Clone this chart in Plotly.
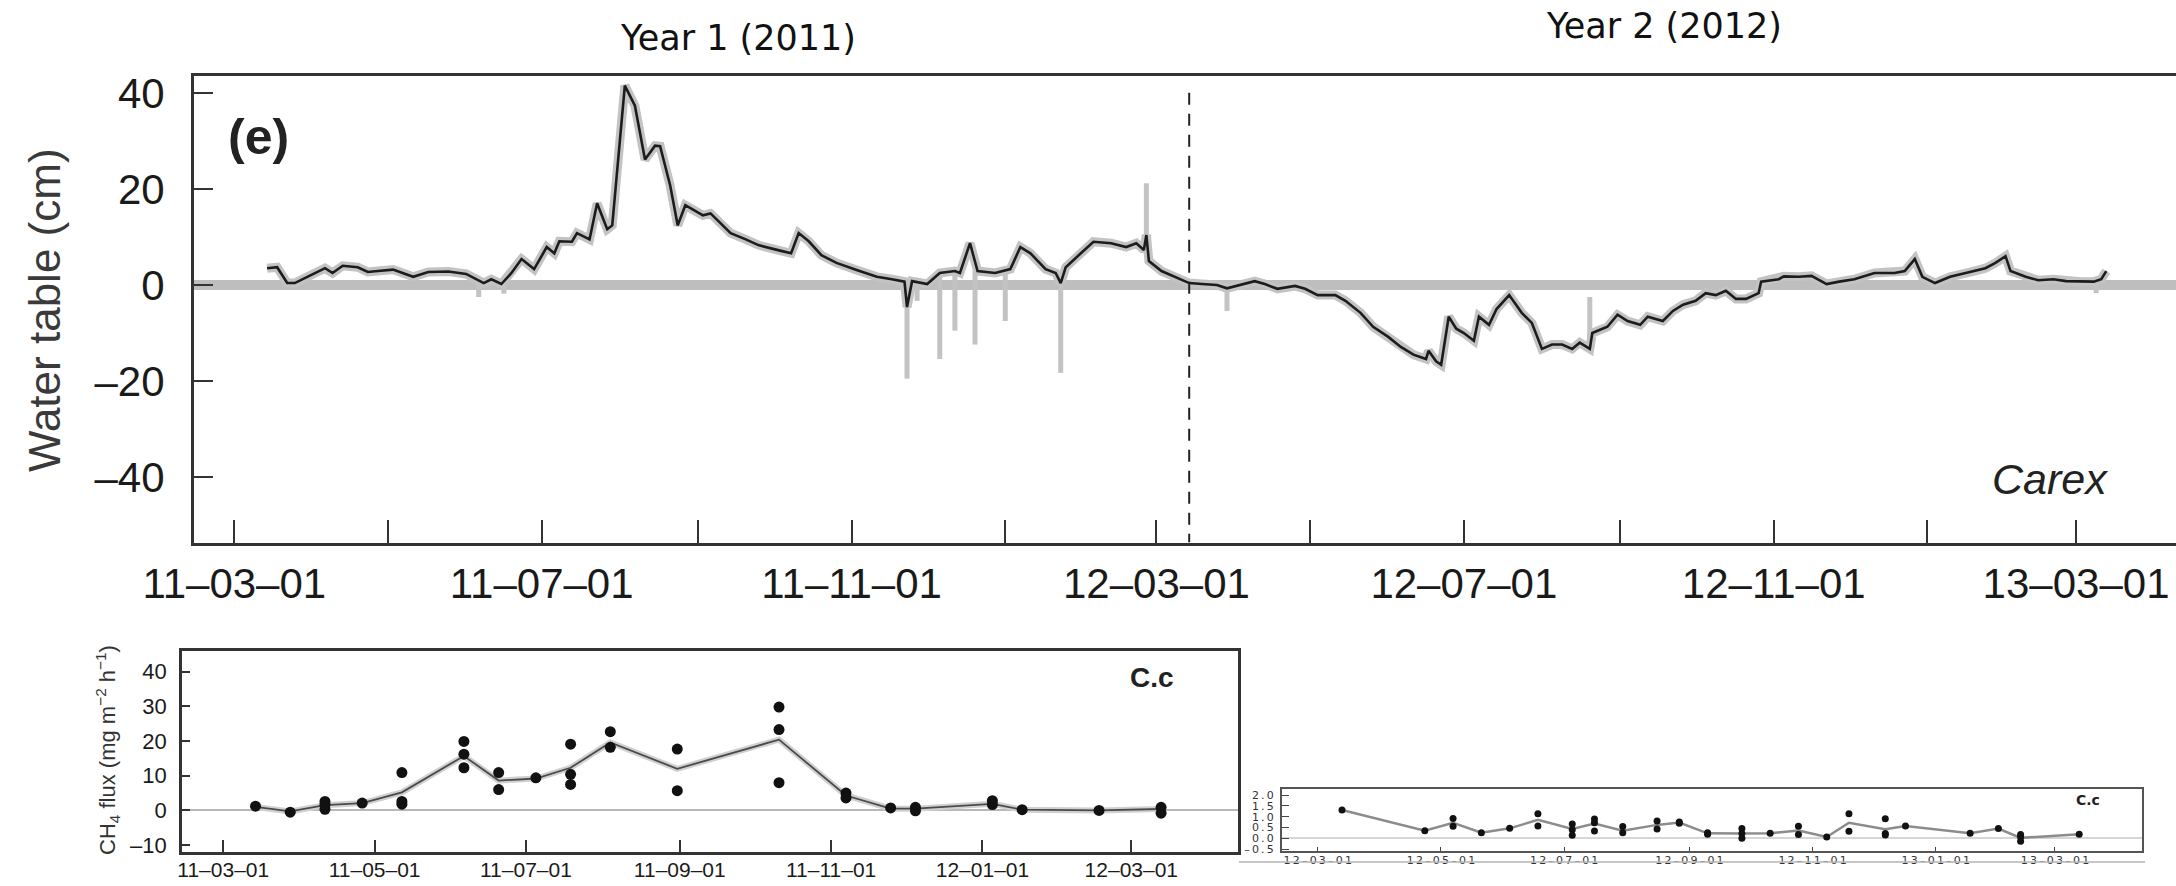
import plotly.graph_objects as go

# ---------------- DATA ----------------
# Main panel (e): water table (cm), black smoothed line
WT_DATES = [
    "2011-03-14", "2011-03-18", "2011-03-22", "2011-03-25", "2011-03-30", "2011-04-06", "2011-04-09",
    "2011-04-13", "2011-04-19", "2011-04-23", "2011-04-27", "2011-05-03", "2011-05-11", "2011-05-17",
    "2011-05-25", "2011-06-01", "2011-06-08", "2011-06-11", "2011-06-15", "2011-06-19", "2011-06-23",
    "2011-06-28", "2011-07-03", "2011-07-06", "2011-07-08", "2011-07-13", "2011-07-15", "2011-07-20",
    "2011-07-23", "2011-07-27", "2011-07-29", "2011-08-03", "2011-08-07", "2011-08-11", "2011-08-15",
    "2011-08-17", "2011-08-21", "2011-08-24", "2011-08-27", "2011-08-31", "2011-09-03", "2011-09-06",
    "2011-09-09", "2011-09-14", "2011-09-20", "2011-09-25", "2011-10-04", "2011-10-08", "2011-10-11",
    "2011-10-15", "2011-10-20", "2011-10-26", "2011-11-03", "2011-11-11", "2011-11-17", "2011-11-22",
    "2011-11-23", "2011-11-25", "2011-12-01", "2011-12-06", "2011-12-12", "2011-12-14", "2011-12-18",
    "2011-12-21", "2011-12-28", "2012-01-03", "2012-01-07", "2012-01-11", "2012-01-17", "2012-01-21",
    "2012-01-23", "2012-01-25", "2012-01-31", "2012-02-05", "2012-02-12", "2012-02-18", "2012-02-22",
    "2012-02-25", "2012-02-26", "2012-02-27", "2012-03-03", "2012-03-08", "2012-03-14", "2012-03-19",
    "2012-03-25", "2012-03-29", "2012-04-05", "2012-04-09", "2012-04-13", "2012-04-18", "2012-04-25",
    "2012-04-29", "2012-05-04", "2012-05-11", "2012-05-15", "2012-05-21", "2012-05-26", "2012-06-01",
    "2012-06-06", "2012-06-11", "2012-06-16", "2012-06-17", "2012-06-20", "2012-06-22", "2012-06-25",
    "2012-06-28", "2012-07-01", "2012-07-05", "2012-07-07", "2012-07-11", "2012-07-14", "2012-07-19",
    "2012-07-24", "2012-07-28", "2012-08-01", "2012-08-05", "2012-08-09", "2012-08-13", "2012-08-16",
    "2012-08-20", "2012-08-21", "2012-08-27", "2012-08-31", "2012-09-04", "2012-09-09", "2012-09-12",
    "2012-09-18", "2012-09-22", "2012-09-26", "2012-10-01", "2012-10-05", "2012-10-09", "2012-10-13",
    "2012-10-17", "2012-10-21", "2012-10-26", "2012-10-27", "2012-11-03", "2012-11-05", "2012-11-11",
    "2012-11-16", "2012-11-22", "2012-11-27", "2012-12-03", "2012-12-11", "2012-12-19", "2012-12-23",
    "2012-12-27", "2012-12-30", "2013-01-04", "2013-01-10", "2013-01-18", "2013-01-24", "2013-01-28",
    "2013-02-01", "2013-02-03", "2013-02-09", "2013-02-14", "2013-02-20", "2013-02-25", "2013-03-03",
    "2013-03-08", "2013-03-11", "2013-03-13",
]
WT_VALUES = [
    3.5, 3.7, 0.4, 0.4, 1.7, 3.5, 2.5,
    4.0, 3.7, 2.7, 2.9, 3.2, 1.7, 2.7,
    2.8, 2.3, 0.4, 1.2, 0.2, 2.5, 5.4,
    3.3, 7.9, 6.6, 9.1, 9.0, 10.8, 9.5,
    17.0, 11.6, 12.4, 41.5, 37.3, 26.1, 29.0,
    28.9, 20.7, 12.4, 16.6, 15.4, 14.5, 14.9,
    13.3, 10.8, 9.5, 8.3, 7.1, 6.6, 10.8,
    9.1, 6.2, 4.6, 3.1, 1.7, 1.2, 0.7,
    -4.6, 0.8, 0.2, 2.5, 2.9, 2.5, 8.7,
    2.9, 2.5, 3.3, 7.9, 6.6, 3.3, 2.5,
    0.4, 3.7, 6.6, 9.0, 8.7, 7.9, 8.7,
    7.3, 10.4, 5.0, 2.9, 1.7, 0.4, 0.2,
    0.0, -0.7, 0.2, 0.8, 0.2, -0.8, -0.2,
    -0.8, -2.1, -2.1, -3.3, -5.8, -8.7, -10.8,
    -12.9, -14.5, -15.4, -13.7, -15.9, -16.6, -6.6,
    -9.1, -10.0, -11.6, -6.6, -8.3, -5.0, -2.1,
    -5.8, -7.9, -13.3, -12.4, -12.4, -13.3, -12.0,
    -13.3, -10.0, -8.7, -6.2, -7.5, -8.3, -6.6,
    -7.5, -5.4, -4.1, -3.3, -1.7, -2.1, -1.2,
    -2.9, -2.9, -1.7, 0.7, 1.2, 1.8, 1.7,
    1.9, 0.2, 0.7, 1.2, 2.5, 2.5, 2.9,
    5.4, 1.7, 0.4, 1.7, 2.7, 3.5, 4.6,
    6.0, 2.9, 1.7, 1.0, 1.2, 0.8, 0.7,
    0.7, 1.2, 2.9,
]
# Raw logger spikes (grey), from -> to
SPIKE_DATES = ["2011-06-06", "2011-06-16", "2011-11-23", "2011-11-27", "2011-12-06", "2011-12-12",
               "2011-12-20", "2012-01-01", "2012-01-23", "2012-02-26", "2012-03-29", "2012-08-20",
               "2013-03-09"]
SPIKE_FROM = [1.0, 0.2, 0.7, 0.8, 2.5, 2.9, 3.0, 3.0, 0.4, 8.0, -0.7, -13.3, 0.7]
SPIKE_TO = [-2.5, -1.8, -19.5, -3.3, -15.4, -9.5, -12.4, -7.5, -18.3, 21.2, -5.4, -2.5, -1.7]
YEAR_SPLIT = "2012-03-14"

MAIN_TICKS = ["2011-03-01", "2011-07-01", "2011-11-01", "2012-03-01", "2012-07-01", "2012-11-01",
              "2013-03-01"]
MAIN_TICKTEXT = ["11–03–01", "11–07–01", "11–11–01", "12–03–01", "12–07–01", "12–11–01", "13–03–01"]
MAIN_MINOR = ["2011-05-01", "2011-09-01", "2012-01-01", "2012-05-01", "2012-09-01", "2013-01-01"]
MAIN_YTICKS = [-40, -20, 0, 20, 40]
MAIN_YTICKTEXT = ["–40", "–20", "0", "20", "40"]

# Year 1 CH4 flux (mg m-2 h-1): mean line and individual chambers
F1_DATES = ["2011-03-14", "2011-03-28", "2011-04-11", "2011-04-26", "2011-05-12", "2011-06-06",
            "2011-06-20", "2011-07-05", "2011-07-19", "2011-08-04", "2011-08-31", "2011-10-11",
            "2011-11-07", "2011-11-25", "2011-12-05", "2012-01-05", "2012-01-17", "2012-02-17",
            "2012-03-13"]
F1_MEAN = [1.0, -0.3, 1.5, 2.1, 5.2, 15.7, 8.6, 9.2, 12.3, 19.6, 12.0, 20.4, 4.3, 0.5, 0.5, 1.9,
           0.2, 0.0, 0.4]
F1_PT_DATES = ["2011-03-14", "2011-03-28", "2011-04-11", "2011-04-11", "2011-04-11", "2011-04-26",
               "2011-05-12", "2011-05-12", "2011-05-12", "2011-06-06", "2011-06-06", "2011-06-06",
               "2011-06-20", "2011-06-20", "2011-07-05", "2011-07-19", "2011-07-19", "2011-07-19",
               "2011-08-04", "2011-08-04", "2011-08-31", "2011-08-31", "2011-10-11", "2011-10-11",
               "2011-10-11", "2011-11-07", "2011-11-07", "2011-11-25", "2011-12-05", "2011-12-05",
               "2012-01-05", "2012-01-05", "2012-01-17", "2012-02-17", "2012-03-13", "2012-03-13"]
F1_PT_VALUES = [1.2, -0.5, 2.6, 1.6, 0.3, 2.1,
                10.9, 2.6, 1.8, 19.9, 16.2, 12.3,
                10.9, 6.0, 9.4, 19.1, 10.4, 7.5,
                22.7, 18.2, 17.7, 5.7, 29.8, 23.3,
                8.0, 5.0, 3.6, 0.7, 0.9, -0.1,
                2.8, 1.7, 0.2, 0.0, 0.9, -0.8]
F1_TICKS = ["2011-03-01", "2011-05-01", "2011-07-01", "2011-09-01", "2011-11-01", "2012-01-01",
            "2012-03-01"]
F1_TICKTEXT = ["11–03–01", "11–05–01", "11–07–01", "11–09–01", "11–11–01", "12–01–01", "12–03–01"]
F1_YTICKS = [-10, 0, 10, 20, 30, 40]
F1_YTICKTEXT = ["–10", "0", "10", "20", "30", "40"]

# Year 2 CH4 flux
F2_DATES = ["2012-03-13", "2012-04-23", "2012-05-07", "2012-05-21", "2012-06-04", "2012-06-18",
            "2012-07-05", "2012-07-16", "2012-07-30", "2012-08-16", "2012-08-27", "2012-09-10",
            "2012-09-27", "2012-10-11", "2012-10-25", "2012-11-08", "2012-11-19", "2012-12-07",
            "2012-12-17", "2013-01-18", "2013-02-01", "2013-02-12", "2013-03-13"]
F2_MEAN = [1.31, 0.35, 0.72, 0.26, 0.46, 0.85, 0.43, 0.68, 0.35, 0.62, 0.73, 0.23, 0.22, 0.23,
           0.36, 0.06, 0.72, 0.42, 0.57, 0.23, 0.45, 0.02, 0.19]
F2_PT_DATES = ["2012-03-13", "2012-04-23", "2012-05-07", "2012-05-07", "2012-05-21", "2012-06-04",
               "2012-06-18", "2012-06-18", "2012-07-05", "2012-07-05", "2012-07-05", "2012-07-16",
               "2012-07-16", "2012-07-16", "2012-07-30", "2012-07-30", "2012-08-16", "2012-08-16",
               "2012-08-27", "2012-08-27", "2012-09-10", "2012-09-10", "2012-09-27", "2012-09-27",
               "2012-09-27", "2012-10-11", "2012-10-25", "2012-10-25", "2012-11-08", "2012-11-19",
               "2012-11-19", "2012-12-07", "2012-12-07", "2012-12-07", "2012-12-17", "2013-01-18",
               "2013-02-01", "2013-02-12", "2013-02-12", "2013-02-12", "2013-03-13"]
F2_PT_VALUES = [1.31, 0.35, 0.91, 0.56, 0.26, 0.46,
                1.14, 0.57, 0.66, 0.40, 0.14, 0.89,
                0.72, 0.34, 0.54, 0.26, 0.80, 0.43,
                0.75, 0.70, 0.26, 0.19, 0.45, 0.22,
                0.0, 0.23, 0.56, 0.17, 0.06, 1.13,
                0.32, 0.90, 0.22, 0.15, 0.57, 0.23,
                0.45, 0.17, 0.06, -0.14, 0.19]
F2_TICKS = ["2012-03-01", "2012-05-01", "2012-07-01", "2012-09-01", "2012-11-01", "2013-01-01",
            "2013-03-01"]
F2_TICKTEXT = ["12–03–01", "12–05–01", "12–07–01", "12–09–01", "12–11–01", "13–01–01", "13–03–01"]
F2_YTICKS = [-0.5, 0.0, 0.5, 1.0, 1.5, 2.0]
F2_YTICKTEXT = ["–0.5", "0.0", "0.5", "1.0", "1.5", "2.0"]

# ---------------- LAYOUT HELPERS ----------------
W, H = 2176, 886
ARIAL = "Liberation Sans, Arial, sans-serif"
DEJAVU = "DejaVu Sans, Verdana, sans-serif"


def fx(p):
    return p / W


def fy(p):
    return 1 - p / H


def spaced(s):
    return "\u2009".join(s)


fig = go.Figure()

# ---- main panel traces ----
fig.add_trace(go.Scatter(x=WT_DATES, y=WT_VALUES, mode="lines",
                         line=dict(color="#c3c3c3", width=9), xaxis="x", yaxis="y",
                         hoverinfo="skip", showlegend=False))
sx, sy = [], []
for d, a, b in zip(SPIKE_DATES, SPIKE_FROM, SPIKE_TO):
    sx += [d, d, None]
    sy += [a, b, None]
fig.add_trace(go.Scatter(x=sx, y=sy, mode="lines", line=dict(color="#c3c3c3", width=5),
                         xaxis="x", yaxis="y", hoverinfo="skip", showlegend=False))
fig.add_trace(go.Scatter(x=WT_DATES, y=WT_VALUES, mode="lines",
                         line=dict(color="#1c1c1c", width=2.6), xaxis="x", yaxis="y",
                         showlegend=False))

# ---- year-1 flux ----
fig.add_trace(go.Scatter(x=F1_DATES, y=F1_MEAN, mode="lines", line=dict(color="#d0d0d0", width=6),
                         xaxis="x2", yaxis="y2", hoverinfo="skip", showlegend=False))
fig.add_trace(go.Scatter(x=F1_DATES, y=F1_MEAN, mode="lines", line=dict(color="#4a4a4a", width=1.8),
                         xaxis="x2", yaxis="y2", showlegend=False))
fig.add_trace(go.Scatter(x=F1_PT_DATES, y=F1_PT_VALUES, mode="markers",
                         marker=dict(color="#111111", size=11), xaxis="x2", yaxis="y2",
                         showlegend=False))

# ---- year-2 flux ----
fig.add_trace(go.Scatter(x=F2_DATES, y=F2_MEAN, mode="lines", line=dict(color="#8c8c8c", width=2.5),
                         xaxis="x3", yaxis="y3", showlegend=False))
fig.add_trace(go.Scatter(x=F2_PT_DATES, y=F2_PT_VALUES, mode="markers",
                         marker=dict(color="#111111", size=7), xaxis="x3", yaxis="y3",
                         showlegend=False))

MAIN_YR = [-53.6, 43.5]
common = dict(automargin=False, showgrid=False, ticklabeloverflow="allow")

fig.update_layout(
    template="none",
    width=W, height=H, margin=dict(l=0, r=0, t=0, b=0, pad=0),
    paper_bgcolor="white", plot_bgcolor="white", showlegend=False,
    xaxis=dict(domain=[fx(194), 1.0], anchor="y", type="date",
               range=["2011-02-13", "2013-04-09 16:00"],
               tickmode="array", tickvals=MAIN_TICKS, ticktext=MAIN_TICKTEXT,
               ticks="inside", ticklen=23, tickwidth=2, tickcolor="#333",
               minor=dict(tickmode="array", tickvals=MAIN_MINOR, ticks="inside", ticklen=23,
                          tickwidth=2, tickcolor="#333", showgrid=False),
               showline=True, linecolor="#333", linewidth=3, mirror=True,
               zeroline=False, ticklabelstandoff=2,
               tickfont=dict(family=ARIAL, size=42, color="#1a1a1a"), **common),
    yaxis=dict(domain=[fy(542.5), fy(76)], anchor="x", range=MAIN_YR,
               tickmode="array", tickvals=MAIN_YTICKS, ticktext=MAIN_YTICKTEXT,
               ticks="inside", ticklen=19, tickwidth=2, tickcolor="#333",
               showline=True, linecolor="#333", linewidth=3,
               zeroline=True, zerolinecolor="#bebebe", zerolinewidth=10,
               ticklabelstandoff=18,
               tickfont=dict(family=ARIAL, size=42, color="#1a1a1a"), **common),
    xaxis2=dict(domain=[fx(181.8), fx(1238)], anchor="y2", type="date",
                range=["2011-02-12 07:00", "2012-04-13"],
                tickmode="array", tickvals=F1_TICKS, ticktext=F1_TICKTEXT,
                ticks="inside", ticklen=12, tickwidth=1.5, tickcolor="#333",
                showline=True, linecolor="#333", linewidth=2.5, mirror=True,
                zeroline=False, ticklabelstandoff=-3,
                tickfont=dict(family=ARIAL, size=21, color="#1a1a1a"), **common),
    yaxis2=dict(domain=[fy(852), fy(650.7)], anchor="x2", range=[-12.0, 46.06],
                tickmode="array", tickvals=F1_YTICKS, ticktext=F1_YTICKTEXT,
                ticks="inside", ticklen=8, tickwidth=1.5, tickcolor="#333",
                showline=True, linecolor="#333", linewidth=2.5, mirror=True,
                zeroline=True, zerolinecolor="#b8b8b8", zerolinewidth=2,
                ticklabelstandoff=8,
                tickfont=dict(family=ARIAL, size=22, color="#1a1a1a"), **common),
    xaxis3=dict(domain=[fx(1282), fx(2141.8)], anchor="y3", type="date",
                range=["2012-02-12 07:00", "2013-04-13"],
                tickmode="array", tickvals=F2_TICKS, ticktext=[spaced(t) for t in F2_TICKTEXT],
                ticks="inside", ticklen=4, tickwidth=1.2, tickcolor="#444",
                showline=True, linecolor="#555", linewidth=2, mirror=True,
                zeroline=False, ticklabelstandoff=-2,
                tickfont=dict(family=DEJAVU, size=11, color="#333"), **common),
    yaxis3=dict(domain=[fy(850.7), fy(789)], anchor="x3", range=[-0.574, 2.28],
                tickmode="array", tickvals=F2_YTICKS,
                ticktext=[spaced(t) for t in F2_YTICKTEXT],
                ticks="inside", ticklen=7, tickwidth=1.2, tickcolor="#444",
                showline=True, linecolor="#555", linewidth=2, mirror=True,
                zeroline=True, zerolinecolor="#d6d6d6", zerolinewidth=1.5,
                ticklabelstandoff=4,
                tickfont=dict(family=DEJAVU, size=11, color="#333"), **common),
)

# Start-of-year-2 dashed marker
fig.add_shape(type="line", xref="x", yref="y", x0=YEAR_SPLIT, x1=YEAR_SPLIT,
              y0=MAIN_YTICKS[-1], y1=MAIN_YR[0],
              line=dict(color="#222", width=2, dash="12px,9px"))
# frame line under the pasted year-2 panel
fig.add_shape(type="line", xref="paper", yref="paper", x0=fx(1239), x1=fx(2145),
              y0=fy(862), y1=fy(862), line=dict(color="#b5b5b5", width=1.5))

ann = [
    dict(text="Year 1 (2011)", x=fx(738), y=fy(38), font=dict(family=DEJAVU, size=35, color="#111")),
    dict(text="Year 2 (2012)", x=fx(1664), y=fy(26), font=dict(family=DEJAVU, size=35, color="#111")),
    dict(text="<b>(e)</b>", x=fx(226), y=fy(137), xanchor="left",
         font=dict(family=ARIAL, size=50, color="#222")),
    dict(text="<i>Carex</i>", x=fx(2110), y=fy(479), xanchor="right",
         font=dict(family=ARIAL, size=43, color="#222")),
    dict(text="Water table (cm)", x=fx(44), y=fy(310), textangle=-90,
         font=dict(family=ARIAL, size=44, color="#3a3a3a")),
    dict(text="<b>C.c</b>", x=fx(1152), y=fy(677), font=dict(family=ARIAL, size=28, color="#222")),
    dict(text="CH<sub>4</sub> flux (mg m<sup>−2</sup> h<sup>−1</sup>)", x=fx(107), y=fy(750),
         textangle=-90, font=dict(family=ARIAL, size=22, color="#333")),
    dict(text="<b>C.c</b>", x=fx(2088), y=fy(800), font=dict(family=DEJAVU, size=14, color="#222")),
]
for a in ann:
    a.setdefault("xanchor", "center")
    fig.add_annotation(xref="paper", yref="paper", showarrow=False, yanchor="middle", **a)

fig.write_html("out.html")
